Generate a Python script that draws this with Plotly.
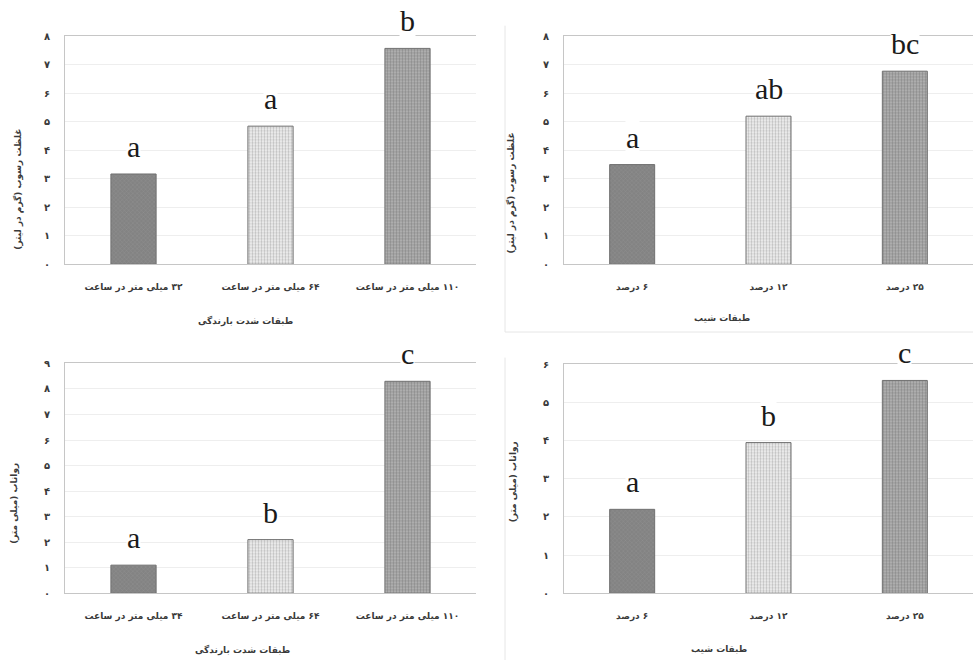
import plotly.graph_objects as go

# ---------------- data ----------------
RLM = "\u200f"
cats_intensity_top = ["۳۲ میلی متر در ساعت", "۶۴ میلی متر در ساعت", "۱۱۰ میلی متر در ساعت"]
cats_intensity_bot = ["۳۴ میلی متر در ساعت", "۶۴ میلی متر در ساعت", "۱۱۰ میلی متر در ساعت"]
cats_slope = ["۶ درصد", "۱۲ درصد", "۲۵ درصد"]

sed_intensity = [3.17, 4.85, 7.58]
sed_slope = [3.5, 5.2, 6.78]
run_intensity = [1.1, 2.1, 8.3]
run_slope = [2.2, 3.95, 5.58]

let_sed_intensity = ["a", "a", "b"]
let_sed_slope = ["a", "ab", "bc"]
let_run_intensity = ["a", "b", "c"]
let_run_slope = ["a", "b", "c"]

title_sed = "غلظت رسوب (گرم در لیتر)"
title_run = "رواناب (میلی متر)"
title_intensity = "طبقات شدت بارندگی"
title_slope = "طبقات شیب"

fa_digits = ["۰", "۱", "۲", "۳", "۴", "۵", "۶", "۷", "۸", "۹"]

# ---------------- layout helpers ----------------
W, H = 973, 666
def px(x):
    return x / W
def py(y):
    return 1 - y / H

panels = [
    ("", cats_intensity_top, sed_intensity, let_sed_intensity, 8, (65, 476), (31, 263)),
    ("2", cats_slope, sed_slope, let_sed_slope, 8, (564, 973), (31, 263)),
    ("3", cats_intensity_bot, run_intensity, let_run_intensity, 9, (65, 476), (364, 598)),
    ("4", cats_slope, run_slope, let_run_slope, 6, (564, 973), (365, 598)),
]

bar_colors = [
    dict(color="#838383", pattern=dict(shape="x", fgcolor="#9c9c9c", bgcolor="#838383", size=3, solidity=0.3)),
    dict(color="#d0d0d0", pattern=dict(shape=".", fgcolor="#8a8a8a", bgcolor="#f2f2f2", size=3, solidity=0.45)),
    dict(color="#8e8e8e", pattern=dict(shape=".", fgcolor="#5e5e5e", bgcolor="#b8b8b8", size=3, solidity=0.5)),
]

fig = go.Figure()
annotations = []
layout = {}

TXT = "#3a3a3a"

for axid, cats, vals, lets, ymax, xd, yd in panels:
    xa = "x" + axid
    ya = "y" + axid
    labels = ["<b>" + RLM + c + "</b>" for c in cats]
    for i in range(3):
        st = bar_colors[i]
        fig.add_trace(go.Bar(
            x=[labels[i]], y=[vals[i]], xaxis=xa, yaxis=ya,
            width=0.33, showlegend=False,
            marker=dict(color=st["color"], pattern=st["pattern"],
                        line=dict(color="#707070", width=1)),
            hoverinfo="skip",
        ))
        annotations.append(dict(
            x=labels[i], y=vals[i], xref=xa, yref=ya, text=lets[i],
            showarrow=False, yanchor="bottom", yshift=10,
            font=dict(family="Liberation Serif", size=30, color="#1a1a1a"),
            bgcolor="white", borderpad=0,
        ))
    layout["xaxis" + axid] = dict(
        domain=[px(xd[0]), px(xd[1])], anchor=ya,
        type="category", categoryorder="array", categoryarray=labels,
        range=[-0.5, 2.5],
        showline=True, linecolor="#c6c6c6", linewidth=1, mirror=True,
        showgrid=False, ticks="", tickfont=dict(family="DejaVu Sans", size=9, color=TXT),
        ticklabelstandoff=14, fixedrange=True,
    )
    layout["yaxis" + axid] = dict(
        domain=[py(yd[1]), py(yd[0])], anchor=xa,
        range=[0, ymax],
        tickvals=list(range(ymax + 1)),
        ticktext=["<b>" + fa_digits[k] + "</b>" for k in range(ymax + 1)],
        showline=True, linecolor="#c6c6c6", linewidth=1,
        showgrid=True, gridcolor="#eeeeee", gridwidth=1,
        zeroline=False, ticks="",
        tickfont=dict(family="DejaVu Sans", size=10, color=TXT),
        ticklabelstandoff=12, fixedrange=True,
    )

def ytitle(text, x, y):
    annotations.append(dict(x=px(x), y=py(y), xref="paper", yref="paper", text="<b>" + RLM + text + "</b>",
                            showarrow=False, textangle=-90, font=dict(family="DejaVu Sans", size=9, color=TXT),
                            xanchor="center", yanchor="middle"))
def xtitle(text, x, y):
    annotations.append(dict(x=px(x), y=py(y), xref="paper", yref="paper", text="<b>" + RLM + text + "</b>",
                            showarrow=False, font=dict(family="DejaVu Sans", size=9, color=TXT),
                            xanchor="center", yanchor="middle"))

ytitle(title_sed, 18, 187)
ytitle(title_sed, 511, 190)
ytitle(title_run, 15, 507)
ytitle(title_run, 513, 485)
xtitle(title_intensity, 245, 321)
xtitle(title_slope, 722, 318)
xtitle(title_intensity, 242, 656)
xtitle(title_slope, 719, 655)

shapes = [
    dict(type="line", xref="paper", yref="paper", x0=px(505), x1=px(505), y0=py(20), y1=py(332),
         line=dict(color="#e6e6e6", width=1)),
    dict(type="line", xref="paper", yref="paper", x0=px(505), x1=px(973), y0=py(332), y1=py(332),
         line=dict(color="#e6e6e6", width=1)),
    dict(type="line", xref="paper", yref="paper", x0=px(505), x1=px(505), y0=py(358), y1=py(666),
         line=dict(color="#e6e6e6", width=1)),
]

fig.update_layout(
    width=W, height=H,
    margin=dict(l=0, r=0, t=0, b=0),
    paper_bgcolor="white", plot_bgcolor="white",
    annotations=annotations, shapes=shapes,
    barmode="overlay",
    **layout,
)

fig.write_html("out.html", config={"displayModeBar": False},
               post_script="document.body.style.margin='0';document.body.style.overflow='hidden';")
